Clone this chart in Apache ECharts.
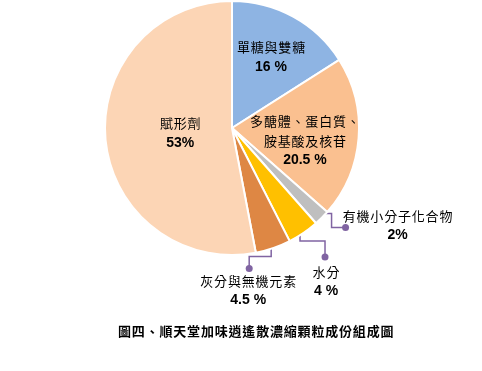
<!DOCTYPE html>
<html>
<head>
<meta charset="utf-8">
<script src="https://cdn.jsdelivr.net/npm/echarts@6/dist/echarts.min.js"></script>
<style>html,body{margin:0;padding:0;background:#fff;}#main{width:482px;height:371px;}</style>
</head>
<body>
<div id="main"></div>
<script>
// ---- data ----
const categories = ['單糖與雙糖', '多醣體、蛋白質、\n胺基酸及核苷', '有機小分子化合物', '水分', '灰分與無機元素', '賦形劑'];
const values = [16, 20.5, 2, 4, 4.5, 53];
const valueLabels = ['16 %', '20.5 %', '2%', '4 %', '4.5 %', '53%'];
const colors = ['#8EB4E3', '#FAC090', '#BFBFBF', '#FFC000', '#DE8744', '#FCD5B5'];
const titleText = '圖四、順天堂加味逍遙散濃縮顆粒成份組成圖';

// ---- layout ----
const CX = 232, CY = 128, R = 127;
const LINE_COLOR = '#8064A2';
// inside labels: radius (px) and angle tweak (deg); outside: leader path offsets from start, label offset from dot
const labelPlace = [
  {inside: true, r: 81, da: 0},
  {inside: true, r: 74, da: 5.2},
  {inside: false, path: [[14, 0], [14, 14], [28, 14]], lab: [52, -2]},
  {inside: false, path: [[0, 13], [25, 13], [25, 29]], lab: [1, 24]},
  {inside: false, path: [[0, 14], [-22, 14], [-22, 26]], lab: [-1, 22]},
  {inside: true, r: 52, da: 0}
];
const SP = '\u200A';
function spaced(s) { return s.split('\n').map(l => Array.from(l).join(SP)).join('\n'); }

const total = values.reduce((a, b) => a + b, 0);
let cum = 0;
const geo = values.map((v, i) => {
  const mid = (cum + v / 2) / total * 360;
  cum += v;
  const P = labelPlace[i];
  if (P.inside) {
    const a = (mid + P.da) * Math.PI / 180;
    return {x: CX + P.r * Math.sin(a), y: CY - P.r * Math.cos(a)};
  }
  const a = mid * Math.PI / 180;
  const sx = CX + 121 * Math.sin(a), sy = CY - 121 * Math.cos(a);
  const pts = [[sx, sy]].concat(P.path.map(p => [sx + p[0], sy + p[1]]));
  const dot = pts[pts.length - 1];
  return {x: dot[0] + P.lab[0], y: dot[1] + P.lab[1], pts: pts, dot: dot};
});

const chart = echarts.init(document.getElementById('main'), null, {renderer: 'canvas'});
const option = {
  animation: false,
  backgroundColor: '#fff',
  title: {
    text: spaced(titleText),
    left: 113, top: 320,
    textStyle: {fontFamily: '"Noto Sans CJK TC"', fontSize: 13, fontWeight: 'bold', color: '#000'}
  },
  graphic: geo.filter(g => g.dot).map(g => ({
    type: 'circle', z: 100,
    shape: {cx: g.dot[0], cy: g.dot[1], r: 3.5},
    style: {fill: LINE_COLOR}
  })),
  series: [{
    type: 'pie',
    center: [CX, CY],
    radius: R,
    startAngle: 90,
    clockwise: true,
    avoidLabelOverlap: false,
    itemStyle: {borderColor: '#fff', borderWidth: 2},
    data: categories.map((c, i) => ({
      name: c, value: values[i],
      itemStyle: {color: colors[i]},
      labelLine: {show: !labelPlace[i].inside}
    })),
    label: {
      show: true,
      position: 'outside',
      color: '#000',
      formatter: p => '{n|' + spaced(categories[p.dataIndex]) + '}\n{v|' + valueLabels[p.dataIndex] + '}',
      rich: {
        n: {fontFamily: '"Noto Sans CJK TC"', fontSize: 13, lineHeight: 20, color: '#000', align: 'center'},
        v: {fontFamily: '"Liberation Sans", Arial', fontSize: 14, fontWeight: 'bold', lineHeight: 19, color: '#000', align: 'center'}
      }
    },
    labelLine: {show: true, lineStyle: {color: LINE_COLOR, width: 1.5}},
    labelLayout: function (params) {
      const g = geo[params.dataIndex];
      const out = {x: g.x, y: g.y, align: 'center', verticalAlign: 'middle'};
      if (g.pts) out.labelLinePoints = g.pts;
      return out;
    }
  }]
};
chart.setOption(option);
</script>
</body>
</html>
